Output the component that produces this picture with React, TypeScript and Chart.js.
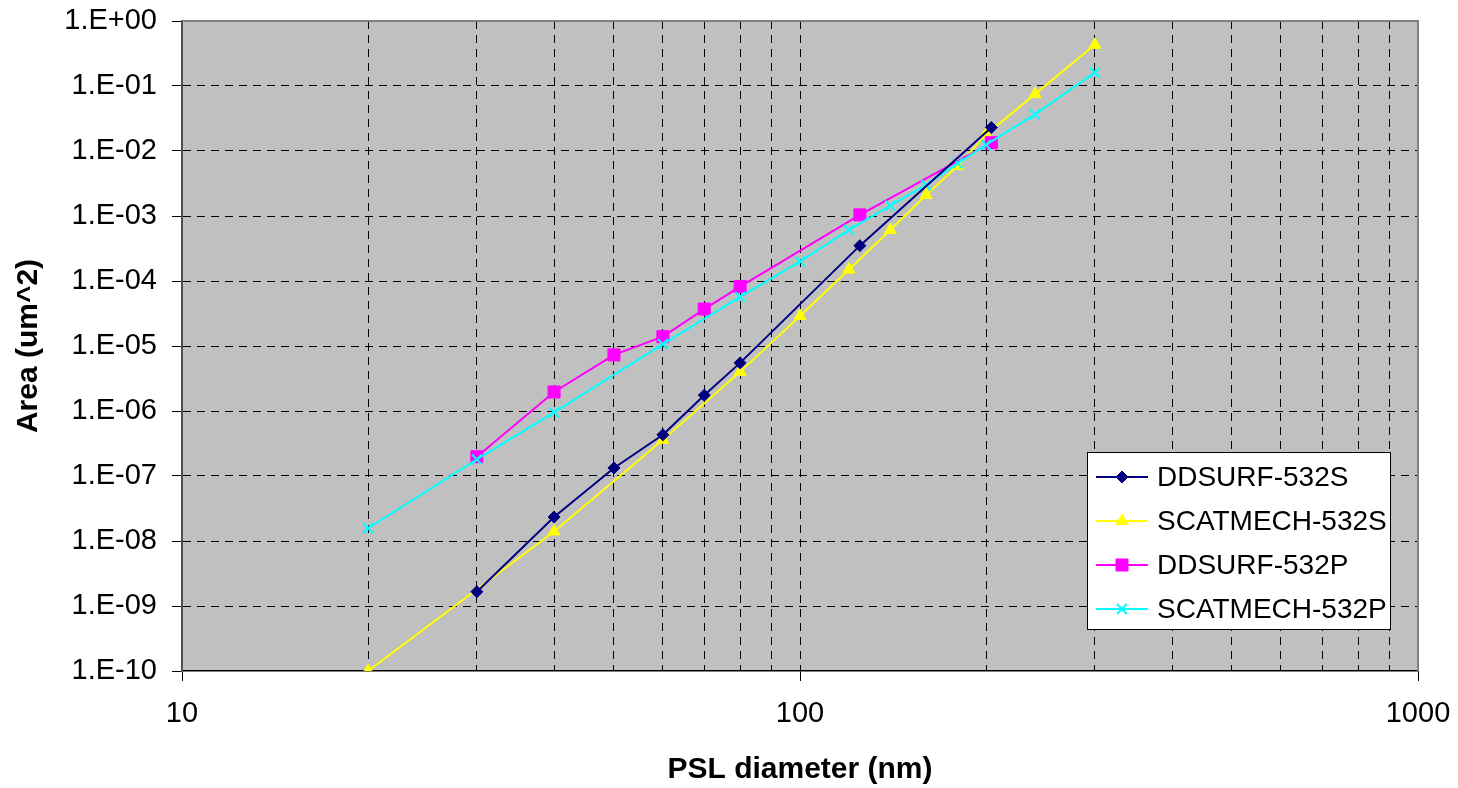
import React, { useEffect, useRef } from 'react';
import { Chart, registerables } from 'chart.js';
import { drawPoint } from 'chart.js/helpers';

Chart.register(...registerables);

const FONT = "'Liberation Sans', Arial, Helvetica, sans-serif";

// ---- Data ----
const seriesNames = ['DDSURF-532S', 'SCATMECH-532S', 'DDSURF-532P', 'SCATMECH-532P'];

const ddsurfSDiam = [30, 40, 50, 60, 70, 80, 125, 204];
const ddsurfSArea = [1.66e-9, 2.34e-8, 1.33e-7, 4.3e-7, 1.75e-6, 5.5e-6, 3.5e-4, 2.3e-2];

const scatSDiam = [20, 40, 60, 80, 100, 120, 140, 160, 180, 200, 240, 300];
const scatSArea = [1.0e-10, 1.4e-8, 3.6e-7, 4.0e-6, 2.9e-5, 1.5e-4, 6.1e-4, 2.1e-3, 5.9e-3, 1.8e-2, 7.5e-2, 0.43];

const ddsurfPDiam = [30, 40, 50, 60, 70, 80, 125, 204];
const ddsurfPArea = [1.98e-7, 1.96e-6, 7.3e-6, 1.39e-5, 3.7e-5, 8.2e-5, 1.04e-3, 1.34e-2];

const scatPDiam = [20, 30, 40, 60, 80, 100, 120, 140, 160, 180, 200, 240, 300];
const scatPArea = [1.57e-8, 1.8e-7, 9.5e-7, 1.07e-5, 5.7e-5, 2.0e-4, 6.1e-4, 1.44e-3, 3.0e-3, 6.46e-3, 1.24e-2, 3.67e-2, 0.162];

const yTickValues = [1, 1e-1, 1e-2, 1e-3, 1e-4, 1e-5, 1e-6, 1e-7, 1e-8, 1e-9, 1e-10];
const xTickValues = [10, 20, 30, 40, 50, 60, 70, 80, 90, 100, 200, 300, 400, 500, 600, 700, 800, 900, 1000];
const xLabelValues = [10, 100, 1000];

const xTitle = 'PSL diameter (nm)';
const yTitle = 'Area (um^2)';

function toPoints(xs: number[], ys: number[]) {
  return xs.map((x, i) => ({ x, y: ys[i] }));
}

function fmtExp(v: number) {
  const e = Math.round(Math.log10(v));
  const sign = e >= 0 ? '+' : '-';
  return '1.E' + sign + String(Math.abs(e)).padStart(2, '0');
}

function isMajorX(v: number) {
  return xLabelValues.some((m) => Math.abs(m - v) < 1e-9);
}

const plotBgPlugin = {
  id: 'plotBg',
  beforeDraw(chart: any) {
    const { ctx, chartArea } = chart;
    ctx.save();
    ctx.fillStyle = '#C0C0C0';
    ctx.fillRect(chartArea.left, chartArea.top, chartArea.right - chartArea.left, chartArea.bottom - chartArea.top);
    ctx.restore();
  },
  beforeDatasetsDraw(chart: any) {
    const { ctx, chartArea } = chart;
    ctx.save();
    ctx.strokeStyle = '#808080';
    ctx.lineWidth = 2;
    ctx.beginPath();
    ctx.moveTo(chartArea.left, chartArea.top);
    ctx.lineTo(chartArea.right, chartArea.top);
    ctx.lineTo(chartArea.right, chartArea.bottom);
    ctx.stroke();
    ctx.restore();
  },
};

const boxLegendPlugin = {
  id: 'boxLegend',
  afterDraw(chart: any) {
    const { ctx } = chart;
    const left = 1087.5;
    const top = 452.5;
    const w = 303;
    const h = 177;
    ctx.save();
    ctx.fillStyle = '#FFFFFF';
    ctx.fillRect(left, top, w, h);
    ctx.strokeStyle = '#000000';
    ctx.lineWidth = 1;
    ctx.strokeRect(left, top, w, h);
    chart.data.datasets.forEach((ds: any, i: number) => {
      const y = 477 + i * 44;
      ctx.strokeStyle = ds.borderColor;
      ctx.lineWidth = 2;
      ctx.beginPath();
      ctx.moveTo(1096, y);
      ctx.lineTo(1148, y);
      ctx.stroke();
      ctx.fillStyle = ds.pointBackgroundColor;
      ctx.strokeStyle = ds.pointBorderColor;
      ctx.lineWidth = ds.pointBorderWidth;
      drawPoint(ctx, { pointStyle: ds.pointStyle, radius: ds.pointRadius, rotation: 0, borderWidth: ds.pointBorderWidth }, 1122, y);
      ctx.fillStyle = '#000000';
      ctx.font = `28px ${FONT}`;
      ctx.textBaseline = 'middle';
      ctx.textAlign = 'left';
      ctx.fillText(ds.label, 1157, y + 1);
    });
    ctx.restore();
  },
};

export default function App() {
  const canvasRef = useRef<HTMLCanvasElement | null>(null);

  useEffect(() => {
    document.body.style.margin = '0';
    const canvas = canvasRef.current;
    if (!canvas) return;

    const chart = new Chart(canvas, {
      type: 'line',
      data: {
        datasets: [
          {
            label: seriesNames[0],
            data: toPoints(ddsurfSDiam, ddsurfSArea),
            borderColor: '#000080',
            backgroundColor: '#000080',
            pointBackgroundColor: '#000080',
            pointBorderColor: '#000080',
            pointBorderWidth: 1,
            pointStyle: 'rectRot',
            pointRadius: 6,
            borderWidth: 2,
            order: 1,
          },
          {
            label: seriesNames[1],
            data: toPoints(scatSDiam, scatSArea),
            borderColor: '#FFFF00',
            backgroundColor: '#FFFF00',
            pointBackgroundColor: '#FFFF00',
            pointBorderColor: '#FFFF00',
            pointBorderWidth: 1,
            pointStyle: 'triangle',
            pointRadius: 7,
            borderWidth: 2,
            order: 4,
          },
          {
            label: seriesNames[2],
            data: toPoints(ddsurfPDiam, ddsurfPArea),
            borderColor: '#FF00FF',
            backgroundColor: '#FF00FF',
            pointBackgroundColor: '#FF00FF',
            pointBorderColor: '#FF00FF',
            pointBorderWidth: 1,
            pointStyle: 'rect',
            pointRadius: 8.5,
            borderWidth: 2,
            order: 3,
          },
          {
            label: seriesNames[3],
            data: toPoints(scatPDiam, scatPArea),
            borderColor: '#00FFFF',
            backgroundColor: '#00FFFF',
            pointBackgroundColor: '#00FFFF',
            pointBorderColor: '#00FFFF',
            pointBorderWidth: 2,
            pointStyle: 'crossRot',
            pointRadius: 7,
            borderWidth: 2,
            order: 2,
          },
        ],
      },
      options: {
        animation: false,
        responsive: false,
        maintainAspectRatio: false,
        layout: { padding: { left: 0, top: 21, right: 40, bottom: 0 } },
        elements: { line: { tension: 0, fill: false } },
        plugins: {
          legend: { display: false },
          tooltip: { enabled: false },
        },
        scales: {
          x: {
            type: 'logarithmic',
            min: 10,
            max: 1000,
            afterBuildTicks: (scale: any) => {
              scale.ticks = xTickValues.map((v) => ({ value: v }));
            },
            afterFit: (scale: any) => {
              scale.height = 117;
              scale.paddingLeft = 0;
              scale.paddingRight = 0;
            },
            ticks: {
              autoSkip: false,
              maxRotation: 0,
              padding: 16,
              color: '#000000',
              font: { family: FONT, size: 29 },
              callback: (v: any) => (isMajorX(Number(v)) ? String(Number(v)) : ''),
            },
            grid: {
              color: (ctx: any) => {
                const v = ctx.tick ? ctx.tick.value : 0;
                return v === 10 || v === 1000 ? 'rgba(0,0,0,0)' : '#000000';
              },
              lineWidth: 1,
              tickLength: 10,
              tickWidth: 1,
              tickBorderDash: [],
              tickColor: (ctx: any) => {
                const v = ctx.tick ? ctx.tick.value : 0;
                return isMajorX(v) ? '#000000' : 'rgba(0,0,0,0)';
              },
            } as any,
            border: { display: true, color: '#000000', width: 1.5, dash: [8, 6] },
            title: {
              display: true,
              text: xTitle,
              color: '#000000',
              font: { family: FONT, size: 30, weight: 'bold' },
              padding: { top: 0, bottom: 0 },
            },
          },
          y: {
            type: 'logarithmic',
            min: 1e-10,
            max: 1,
            afterBuildTicks: (scale: any) => {
              scale.ticks = yTickValues.map((v) => ({ value: v }));
            },
            afterFit: (scale: any) => {
              scale.width = 182;
              scale.paddingTop = 0;
              scale.paddingBottom = 0;
            },
            ticks: {
              autoSkip: false,
              padding: 15,
              color: '#000000',
              font: { family: FONT, size: 29 },
              callback: (v: any) => fmtExp(Number(v)),
            },
            grid: {
              color: (ctx: any) => {
                const v = ctx.tick ? ctx.tick.value : 0;
                return v === 1 || v === 1e-10 ? 'rgba(0,0,0,0)' : '#000000';
              },
              lineWidth: 1,
              tickLength: 10,
              tickWidth: 1,
              tickBorderDash: [],
              tickColor: '#000000',
            } as any,
            border: { display: true, color: '#505050', width: 2, dash: [8, 6] },
            title: {
              display: true,
              text: yTitle,
              color: '#000000',
              font: { family: FONT, size: 30, weight: 'bold' },
              padding: { top: 11, bottom: 0 },
            },
          },
        },
      } as any,
      plugins: [plotBgPlugin, boxLegendPlugin],
    });

    return () => {
      chart.destroy();
    };
  }, []);

  return (
    <div style={{ width: 1458, height: 788 }}>
      <canvas ref={canvasRef} width={1458} height={788} style={{ display: 'block', width: 1458, height: 788 }} />
    </div>
  );
}
